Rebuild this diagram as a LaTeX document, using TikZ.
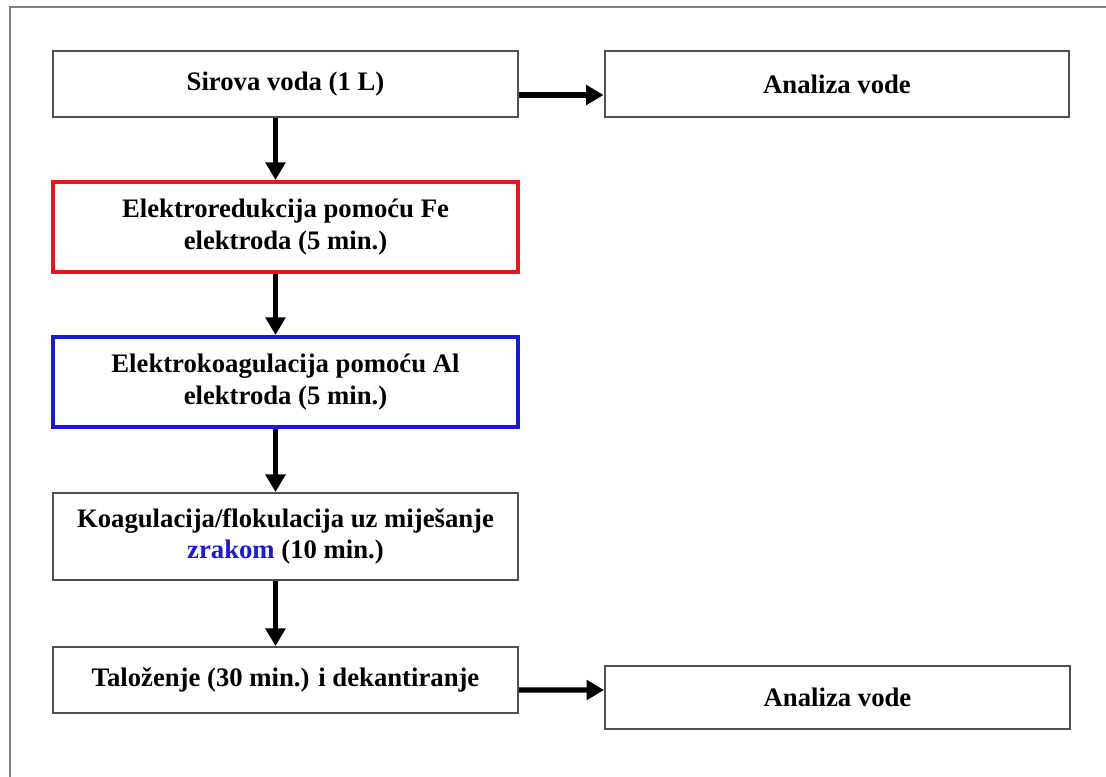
\documentclass[tikz,border=0pt]{standalone}
\usepackage{fontspec}
\setmainfont{Liberation Serif}
\usepackage{tikz}
\usetikzlibrary{positioning, calc, arrows.meta}

\definecolor{boxgray}{HTML}{505050}
\definecolor{framegray}{HTML}{808080}
\definecolor{elred}{HTML}{E8161B}
\definecolor{elblue}{HTML}{1A1AD0}

\begin{document}
\begin{tikzpicture}[x=0.02cm, y=-0.02cm, thick]
        % Define block styles
        \tikzstyle{block} = [rectangle, draw=boxgray, line width=1.1pt, fill=white, minimum width=9.3cm, minimum height=1.32cm, align=center, font=\fontsize{15.2}{18}\selectfont\bfseries, inner sep=0pt]
        \tikzstyle{flow} = [line width=2.9pt, -{Triangle[length=10pt, width=11pt]}]

        % Page size and frame
        \useasboundingbox (0,0) rectangle (1106,777);
        \draw [framegray, line width=1.1pt] (10,790) -- (10,7) -- (1120,7);

        % Place nodes
        \node [block] (raw_water) at (285.5,84) {Sirova voda (1 L)};
        \node [block] (analysis_top) at (837,84) {Analiza vode};
        \node [block, draw=elred, line width=2.3pt, minimum height=1.8cm] (electroreduction) at (285.5,227) {Elektroredukcija pomoću Fe\\elektroda (5 min.)};
        \node [block, draw=elblue, line width=2.3pt, minimum height=1.8cm] (electrocoagulation) at (285.5,382) {Elektrokoagulacija pomoću Al\\elektroda (5 min.)};
        \node [block, minimum height=1.74cm] (flocculation) at (285.5,536.5) {Koagulacija/flokulacija uz miješanje\\\textcolor{elblue}{zrakom} (10 min.)};
        \node [block] (settling) at (285.5,680) {Taloženje (30 min.) i dekantiranje};
        \node [block, minimum height=1.26cm] (analysis_bottom) at (837.5,697.5) {Analiza vode};

        % Draw connections as arrows
        \draw [flow] ([xshift=-0.2cm]raw_water.south) -- ([xshift=-0.2cm]electroreduction.north);
        \draw [flow] ([xshift=-0.2cm]electroreduction.south) -- ([xshift=-0.2cm]electrocoagulation.north);
        \draw [flow] ([xshift=-0.2cm]electrocoagulation.south) -- ([xshift=-0.2cm]flocculation.north);
        \draw [flow] ([xshift=-0.2cm]flocculation.south) -- ([xshift=-0.2cm]settling.north);
        \draw [flow] ([yshift=-0.22cm]raw_water.east) -- ([yshift=-0.22cm]analysis_top.west);
        \draw [flow] ([yshift=-0.2cm]settling.east) -- ([yshift=0.15cm]analysis_bottom.west);
    \end{tikzpicture}
\end{document}
